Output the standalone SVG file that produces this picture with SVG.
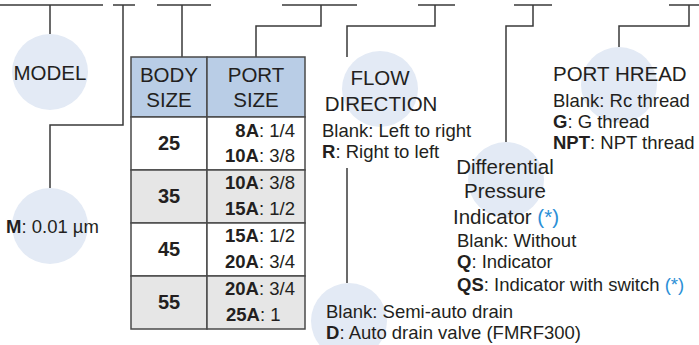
<svg xmlns="http://www.w3.org/2000/svg" width="699" height="345" viewBox="0 0 699 345">
<style>
.bg{fill:#ffffff}
.cir{fill:#e3eaf5}
.ln{fill:none;stroke:#3a3a3a;stroke-width:1.5}
.big{font-family:"Liberation Sans",Arial,sans-serif;font-size:20.5px;fill:#231f20}
.sm{font-family:"Liberation Sans",Arial,sans-serif;font-size:18.5px;fill:#231f20}
.num{font-family:"Liberation Sans",Arial,sans-serif;font-size:20px;font-weight:bold;fill:#231f20}
.b{font-weight:bold}
.ast{fill:#2b8fd6}
.cell{stroke:#4a4a4a;stroke-width:1.5}
.hd{fill:#b9cde6}
.w{fill:#ffffff}
.g{fill:#e6e6e6}
</style>
<rect class="bg" x="0" y="0" width="699" height="345"/>
<g id="connectors">
<path class="ln" d="M0 5H103M50 5V34"/>
<path class="ln" d="M113 5H135M123 5V125H50V188"/>
<path class="ln" d="M157 5H211M182 5V57"/>
<path class="ln" d="M282 5H357M321 5V26H256V57"/>
<path class="ln" d="M418 5H455M435 5V26H347V57"/>
<path class="ln" d="M514 5H552M533 5V26H506V142"/>
<path class="ln" d="M669 5H699M689 5V26H619V47"/>
<path class="ln" d="M347 168V283"/>
</g>
<g id="model">
<circle class="cir" cx="50" cy="72" r="38"/>
<text class="big" x="50" y="80" text-anchor="middle">MODEL</text>
</g>
<g id="filtration">
<circle class="cir" cx="50" cy="226" r="38"/>
<text class="sm" x="6" y="233"><tspan class="b">M</tspan>: 0.01 µm</text>
</g>
<g id="size-table">
<rect class="cell hd" x="131" y="57" width="76" height="60"/>
<rect class="cell hd" x="207" y="57" width="98" height="60"/>
<rect class="cell w" x="131" y="117" width="76" height="53"/>
<rect class="cell w" x="207" y="117" width="98" height="53"/>
<rect class="cell g" x="131" y="170" width="76" height="53"/>
<rect class="cell g" x="207" y="170" width="98" height="53"/>
<rect class="cell w" x="131" y="223" width="76" height="53"/>
<rect class="cell w" x="207" y="223" width="98" height="53"/>
<rect class="cell g" x="131" y="276" width="76" height="53"/>
<rect class="cell g" x="207" y="276" width="98" height="53"/>
<text class="big" x="169" y="82" text-anchor="middle">BODY</text>
<text class="big" x="169" y="107" text-anchor="middle">SIZE</text>
<text class="big" x="256" y="82" text-anchor="middle">PORT</text>
<text class="big" x="256" y="107" text-anchor="middle">SIZE</text>
<text class="num" x="169" y="150" text-anchor="middle">25</text>
<text class="num" x="169" y="203" text-anchor="middle">35</text>
<text class="num" x="169" y="256" text-anchor="middle">45</text>
<text class="num" x="169" y="309" text-anchor="middle">55</text>
<text class="sm" x="295" y="137" text-anchor="end"><tspan class="b">8A</tspan>: 1/4</text>
<text class="sm" x="295" y="162" text-anchor="end"><tspan class="b">10A</tspan>: 3/8</text>
<text class="sm" x="295" y="189" text-anchor="end"><tspan class="b">10A</tspan>: 3/8</text>
<text class="sm" x="295" y="215" text-anchor="end"><tspan class="b">15A</tspan>: 1/2</text>
<text class="sm" x="295" y="242" text-anchor="end"><tspan class="b">15A</tspan>: 1/2</text>
<text class="sm" x="295" y="268" text-anchor="end"><tspan class="b">20A</tspan>: 3/4</text>
<text class="sm" x="295" y="295" text-anchor="end"><tspan class="b">20A</tspan>: 3/4</text>
<text class="sm" x="226" y="321"><tspan class="b">25A</tspan>: 1</text>
</g>
<g id="flow-direction">
<circle class="cir" cx="380" cy="89" r="38"/>
<text class="big" x="380" y="85" text-anchor="middle">FLOW</text>
<text class="big" x="381" y="111" text-anchor="middle">DIRECTION</text>
<text class="sm" x="322" y="137">Blank: Left to right</text>
<text class="sm" x="322" y="158"><tspan class="b">R</tspan>: Right to left</text>
</g>
<g id="drain">
<circle class="cir" cx="349" cy="321" r="38"/>
<text class="sm" x="326" y="318">Blank: Semi-auto drain</text>
<text class="sm" x="326" y="339"><tspan class="b">D</tspan>: Auto drain valve (FMRF300)</text>
</g>
<g id="differential-pressure">
<circle class="cir" cx="506" cy="180" r="38"/>
<text class="big" x="505" y="174" text-anchor="middle">Differential</text>
<text class="big" x="505" y="198" text-anchor="middle">Pressure</text>
<text class="big" x="453" y="224">Indicator <tspan class="ast">(*)</tspan></text>
<text class="sm" x="457" y="247">Blank: Without</text>
<text class="sm" x="457" y="268"><tspan class="b">Q</tspan>: Indicator</text>
<text class="sm" x="457" y="291"><tspan class="b">QS</tspan>: Indicator with switch <tspan class="ast">(*)</tspan></text>
</g>
<g id="port-thread">
<circle class="cir" cx="619" cy="85" r="38"/>
<text class="big" x="553" y="81">PORT HREAD</text>
<text class="sm" x="553" y="107">Blank: Rc thread</text>
<text class="sm" x="553" y="128"><tspan class="b">G</tspan>: G thread</text>
<text class="sm" x="553" y="149"><tspan class="b">NPT</tspan>: NPT thread</text>
</g>
</svg>
